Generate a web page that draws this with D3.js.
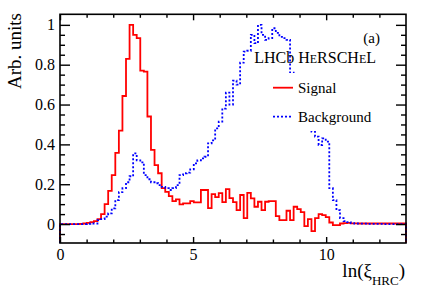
<!DOCTYPE html>
<html>
<head>
<meta charset="utf-8">
<style>
body { margin: 0; background: #fff; }
svg { display: block; font-family: "Liberation Serif", "DejaVu Serif", serif; }
</style>
</head>
<body>
<div id="chart"></div>
<script src="https://d3js.org/d3.v7.min.js"></script>
<script>
// histogram binning: 100 bins of 0.134 starting at -0.2
var binLo = -0.2, binW = 0.134;

var signal = [
  0, 0, 0, 0, 0, 0, 0, 0.001, 0.003, 0.006,
  0.01, 0.015, 0.025, 0.05, 0.1, 0.167, 0.246, 0.357, 0.469, 0.643,
  0.829, 1.0, 0.95, 0.933, 0.77, 0.765, 0.54, 0.372, 0.296, 0.255,
  0.18, 0.162, 0.14, 0.115, 0.124, 0.099, 0.104, 0.104, 0.115, 0.109,
  0.109, 0.171, 0.171, 0.08, 0.15, 0.135, 0.155, 0.11, 0.175, 0.13,
  0.11, 0.07, 0.146, 0.03, 0.157, 0.129, 0.087, 0.112, 0.07, 0.112,
  0.115, 0.115, 0.04, 0.02, 0.02, 0.067, 0.02, 0.087, 0.075, 0.06,
  -0.01, 0.025, -0.035, 0.03, 0.05, 0.045, 0.035, 0.008, -0.005, -0.005,
  0.003, 0.005, 0.006, 0.004, 0.004, 0.003, 0.003, 0.003, 0.003, 0.003,
  0.003, 0.003, 0.003, 0.003, 0.003, 0.003, 0.003, 0.003, 0.003, 0.003
];

var background = [
  0, 0, 0, 0, 0, 0, 0, 0, 0, 0.001,
  0.003, 0.003, 0.02, 0.025, 0.037, 0.054, 0.079, 0.12, 0.16, 0.18,
  0.21, 0.24, 0.355, 0.32, 0.31, 0.246, 0.225, 0.21, 0.205, 0.196,
  0.187, 0.18, 0.171, 0.18, 0.196, 0.246, 0.255, 0.258, 0.275, 0.305,
  0.32, 0.33, 0.338, 0.405, 0.42, 0.48, 0.514, 0.58, 0.66, 0.6,
  0.72, 0.7, 0.81, 0.866, 0.87, 0.95, 0.908, 1.0, 0.95, 0.925,
  0.933, 0.983, 0.96, 0.94, 0.933, 0.925, 0.76, 0.62, 0.55, 0.52,
  0.5, 0.49, 0.464, 0.439, 0.397, 0.43, 0.414, 0.18, 0.12, 0.07,
  0.03, 0.015, 0.01, 0.005, 0.003, 0.002, 0.002, 0.002, 0.001, 0.001,
  0.001, 0.001, 0, 0, 0, 0, 0, 0, 0, 0
];

var xMajor = [0, 5, 10];
var yMajor = [0, 0.2, 0.4, 0.6, 0.8, 1];
var legendLabels = ["Signal", "Background"];

var W = 427, H = 290;
var frame = { left: 60, right: 406, top: 14.3, bottom: 243 };
var xDom = [0, 13], yDom = [-0.095, 1.053];

var svg = d3.select("#chart").append("svg")
  .attr("width", W).attr("height", H);

var x = d3.scaleLinear().domain(xDom).range([frame.left, frame.right]);
var y = d3.scaleLinear().domain(yDom).range([frame.bottom, frame.top]);

// ROOT-style step outline, starting and ending on the frame bottom
function histPath(vals) {
  var p = d3.path(), started = false, lastHi = 0;
  vals.forEach(function(v, k) {
    var lo = Math.max(binLo + k * binW, xDom[0]);
    var hi = Math.min(binLo + (k + 1) * binW, xDom[1]);
    if (lo >= hi) return;
    if (!started) { p.moveTo(x(lo), y(yDom[0])); started = true; }
    p.lineTo(x(lo), y(v));
    p.lineTo(x(hi), y(v));
    lastHi = hi;
  });
  p.lineTo(x(lastHi), y(yDom[0]));
  return p.toString();
}

svg.append("path")
  .attr("d", histPath(signal))
  .attr("fill", "none")
  .attr("stroke", "#ff0000")
  .attr("stroke-width", 1.8);

svg.append("path")
  .attr("d", histPath(background))
  .attr("fill", "none")
  .attr("stroke", "#0000ff")
  .attr("stroke-width", 1.8)
  .attr("stroke-dasharray", "2,2");

// legend box (white fill hides the histogram behind it)
svg.append("rect")
  .attr("x", 266).attr("y", 73)
  .attr("width", 130).attr("height", 58)
  .attr("fill", "#fff");

svg.append("line")
  .attr("x1", 273).attr("x2", 293).attr("y1", 87.7).attr("y2", 87.7)
  .attr("stroke", "#ff0000").attr("stroke-width", 1.8);
svg.append("line")
  .attr("x1", 273).attr("x2", 293).attr("y1", 116.7).attr("y2", 116.7)
  .attr("stroke", "#0000ff").attr("stroke-width", 1.8)
  .attr("stroke-dasharray", "2,2");

svg.selectAll(".leg").data(legendLabels).enter().append("text")
  .attr("x", 298)
  .attr("y", function(d, i) { return 93 + i * 29; })
  .style("font-size", "15px")
  .text(function(d) { return d; });

svg.append("text")
  .attr("x", 380).attr("y", 43)
  .attr("text-anchor", "end")
  .style("font-size", "15px")
  .text("(a)");

var lhcb = svg.append("text")
  .attr("x", 376).attr("y", 63)
  .attr("text-anchor", "end")
  .style("font-size", "16px");
[["LHCb H", 16], ["E", 12], ["RSCH", 16], ["E", 12], ["L", 16]].forEach(function(s) {
  lhcb.append("tspan").style("font-size", s[1] + "px").text(s[0]);
});

// axes: ticks drawn inward as in ROOT
function yMinor() {
  return d3.range(-1, 21).map(function(i) { return i * 0.05; })
    .filter(function(v) { return Math.abs(v * 5 - Math.round(v * 5)) > 1e-6; });
}
function xMinor() {
  return d3.range(1, 13).filter(function(v) { return v % 5 !== 0; });
}

function addAxis(axis, tx, ty) {
  var g = svg.append("g")
    .attr("transform", "translate(" + tx + "," + ty + ")")
    .call(axis);
  g.select(".domain").remove();
  g.selectAll("line").attr("stroke", "#000").attr("stroke-width", 1.4);
  g.selectAll("text").attr("fill", "#000")
    .style("font-family", "Liberation Serif").style("font-size", "16px");
  return g;
}

var fmt = d3.format("~g");
addAxis(d3.axisLeft(y).tickValues(yMajor).tickSize(-10).tickPadding(5).tickFormat(fmt), frame.left, 0);
addAxis(d3.axisLeft(y).tickValues(yMinor()).tickSize(-5).tickFormat(""), frame.left, 0);
addAxis(d3.axisRight(y).tickValues(yMajor).tickSize(-10).tickFormat(""), frame.right, 0);
addAxis(d3.axisRight(y).tickValues(yMinor()).tickSize(-5).tickFormat(""), frame.right, 0);
addAxis(d3.axisBottom(x).tickValues(xMajor).tickSize(-6).tickPadding(6).tickFormat(fmt), 0, frame.bottom);
addAxis(d3.axisBottom(x).tickValues(xMinor()).tickSize(-3.5).tickFormat(""), 0, frame.bottom);
addAxis(d3.axisTop(x).tickValues(xMajor).tickSize(-6).tickFormat(""), 0, frame.top);
addAxis(d3.axisTop(x).tickValues(xMinor()).tickSize(-3.5).tickFormat(""), 0, frame.top);

svg.append("rect")
  .attr("x", frame.left).attr("y", frame.top)
  .attr("width", frame.right - frame.left)
  .attr("height", frame.bottom - frame.top)
  .attr("fill", "none")
  .attr("stroke", "#000")
  .attr("stroke-width", 1.6);

// axis titles
svg.append("text")
  .attr("transform", "translate(21,13) rotate(-90)")
  .attr("text-anchor", "end")
  .style("font-size", "19px")
  .text("Arb. units");

var xt = svg.append("text")
  .attr("x", 405).attr("y", 276.7)
  .attr("text-anchor", "end")
  .style("font-size", "19px");
xt.append("tspan").text("ln(\u03BE");
xt.append("tspan").attr("dy", 8).style("font-size", "13px").text("HRC");
xt.append("tspan").attr("dy", -8).text(")");
</script>
</body>
</html>
